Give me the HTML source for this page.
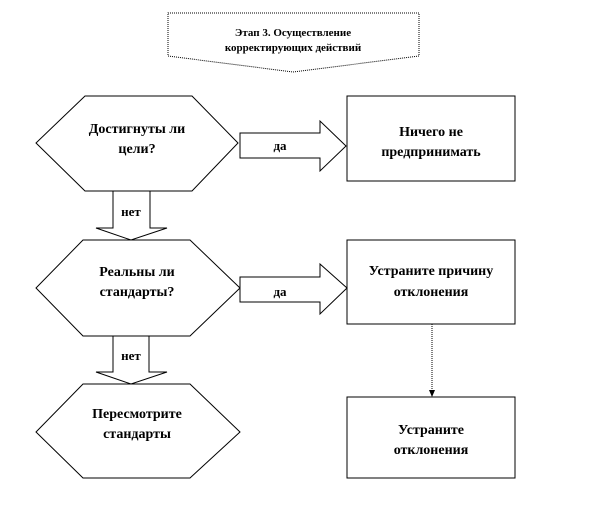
<!DOCTYPE html>
<html><head><meta charset="utf-8"><style>
html,body{margin:0;padding:0;background:#fff;}
svg text{font-family:"Liberation Serif",serif;font-weight:bold;fill:#000;text-anchor:middle;}
</style></head><body>
<svg width="612" height="504" viewBox="0 0 612 504" xmlns="http://www.w3.org/2000/svg">
<g fill="#fff" stroke="#000" stroke-width="1">
<polygon points="168,13 419,13 419,56 293,72 168,56" stroke-dasharray="1,1"/>
<polygon points="85,96 192,96 238,143 192,191 85,191 36,143"/>
<polygon points="83,240 190,240 240,288 190,336 83,336 36,288"/>
<polygon points="83,384 190,384 240,432 190,478 83,478 36,432"/>
<rect x="347" y="96" width="168" height="85"/>
<rect x="347" y="240" width="168" height="84"/>
<rect x="347" y="397" width="168" height="81"/>
<polygon points="240,133 320,133 320,121 346,146 320,171 320,158 240,158"/>
<polygon points="240,277 320,277 320,264 347,288 320,314 320,302 240,302"/>
<polygon points="113,191 150,191 150,228 167,228 131,240 96,228 113,228"/>
<polygon points="113,336 149,336 149,372 167,372 131,384 96,372 113,372"/>
</g>
<line x1="432" y1="324" x2="432" y2="391" stroke="#000" stroke-dasharray="1,1"/>
<polygon points="429,390 435,390 432,397" fill="#000"/>
<text x="293" y="36" font-size="11">Этап 3. Осуществление</text>
<text x="293" y="51" font-size="11">корректирующих действий</text>
<text x="137" y="133" font-size="14">Достигнуты ли</text>
<text x="137" y="153" font-size="14">цели?</text>
<text x="280" y="150" font-size="13">да</text>
<text x="131" y="216" font-size="13">нет</text>
<text x="431" y="136" font-size="14">Ничего не</text>
<text x="431" y="156" font-size="14">предпринимать</text>
<text x="137" y="276" font-size="14">Реальны ли</text>
<text x="137" y="296" font-size="14">стандарты?</text>
<text x="280" y="296" font-size="13">да</text>
<text x="131" y="360" font-size="13">нет</text>
<text x="431" y="275" font-size="14">Устраните причину</text>
<text x="431" y="296" font-size="14">отклонения</text>
<text x="137" y="418" font-size="14">Пересмотрите</text>
<text x="137" y="438" font-size="14">стандарты</text>
<text x="431" y="434" font-size="14">Устраните</text>
<text x="431" y="454" font-size="14">отклонения</text>
</svg>
</body></html>
